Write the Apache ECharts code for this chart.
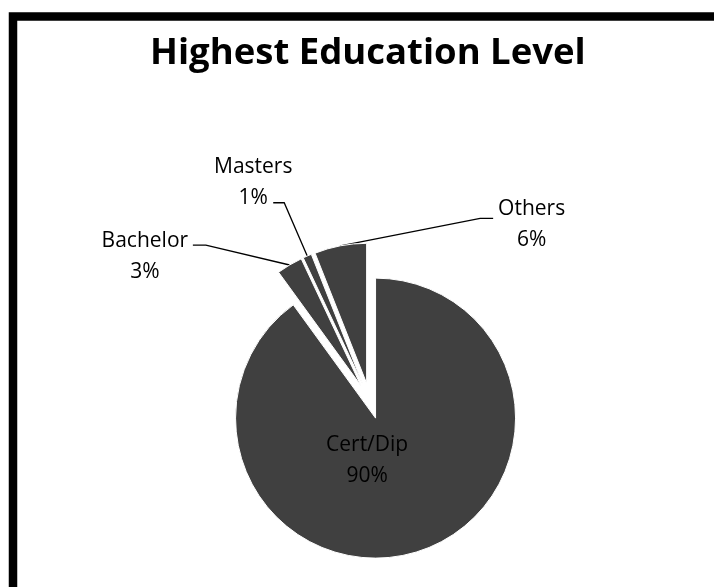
<!DOCTYPE html>
<html><head><meta charset="utf-8">
<script src="https://cdn.jsdelivr.net/npm/echarts@6/dist/echarts.min.js"></script>
<style>html,body{margin:0;padding:0;background:#fff}#c{width:714px;height:587px}</style>
</head><body><div id="c"></div>
<script>
const categories = ['Cert/Dip', 'Bachelor', 'Masters', 'Others'];
const values = [90, 3, 1, 6];
const titleText = 'Highest Education Level';

const FONT = '"Open Sans", sans-serif';
// per-slice label styling (not data)
const labelCfg = [
  { position: 'inside', padding: [0, 62, 54, 0], width: 90 },
  { position: 'outside', len: 23, len2: 85, dist: 3, width: 90, padding: [23, 0, 0, 0], stub: 13 },
  { position: 'outside', len: 58, len2: 11, dist: -22, width: 84, padding: [0, 0, 41, 0], stub: null },
  { position: 'outside', len: 28, len2: -158, dist: -74.5, width: 72, padding: [12, 0, 0, 0], stub: 13 }
];

const chart = echarts.init(document.getElementById('c'), null, { renderer: 'canvas' });
const richT = (w) => ({ t: { width: w, align: 'center', lineHeight: 31, fontSize: 21, fontFamily: FONT, color: '#000' } });

chart.setOption({
  backgroundColor: '#fff',
  animation: false,
  title: {
    text: titleText,
    left: 150,
    top: 35,
    padding: 0,
    textStyle: { fontFamily: FONT, fontWeight: 'bold', fontSize: 36.5, color: '#000' }
  },
  graphic: [{
    type: 'rect',
    shape: { x: 13, y: 16.5, width: 900, height: 900 },
    style: { fill: 'none', stroke: '#000', lineWidth: 8.5 },
    silent: true
  }],
  series: [{
    type: 'pie',
    center: [370, 401],
    radius: 140,
    startAngle: 90,
    clockwise: true,
    selectedMode: 'multiple',
    selectedOffset: 18,
    avoidLabelOverlap: false,
    itemStyle: { color: '#404040', borderColor: '#fff', borderWidth: 1 },
    select: { itemStyle: { color: '#404040', borderColor: '#fff', borderWidth: 1 } },
    emphasis: { disabled: true },
    label: { show: true, formatter: '{t|{b}\n{d}%}', color: '#000', fontFamily: FONT, fontSize: 21, textBorderWidth: 0 },
    labelLine: { show: true, lineStyle: { color: '#000', width: 1.3 } },
    labelLayout: function (p) {
      const cfg = labelCfg[p.dataIndex];
      const pts = p.labelLinePoints;
      if (!cfg || cfg.stub == null || !pts || pts.length < 3) return {};
      const s = Math.sign(pts[1][0] - pts[2][0]);
      return { labelLinePoints: [pts[0], [pts[2][0] + s * cfg.stub, pts[2][1]], pts[2]] };
    },
    data: categories.map((name, i) => {
      const cfg = labelCfg[i];
      return {
        name: name,
        value: values[i],
        selected: true,
        label: {
          position: cfg.position,
          padding: cfg.padding,
          distanceToLabelLine: cfg.dist == null ? 5 : cfg.dist,
          rich: richT(cfg.width)
        },
        labelLine: {
          show: cfg.position !== 'inside',
          length: cfg.len, length2: cfg.len2,
          minTurnAngle: 0, maxSurfaceAngle: 180
        }
      };
    })
  }]
});
</script></body></html>
